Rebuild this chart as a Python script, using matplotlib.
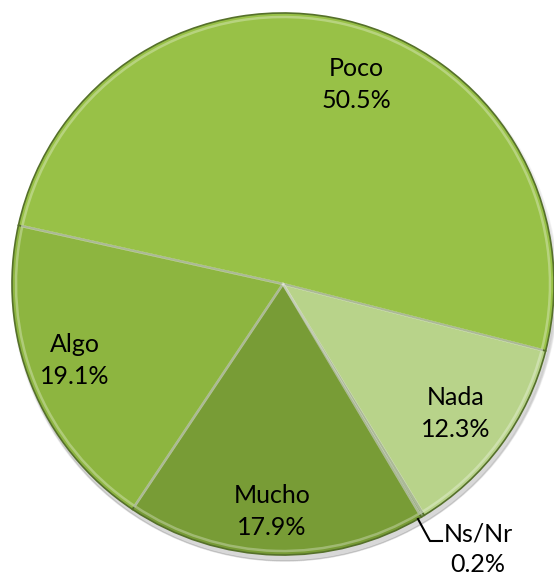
import matplotlib
matplotlib.use('Agg')
import matplotlib.pyplot as plt
import numpy as np

# --- DATOS ---
etiquetas = ['Poco', 'Algo', 'Mucho', 'Ns/Nr', 'Nada']
valores = [50.5, 19.1, 17.9, 0.2, 12.3]
colores = ['#98C147', '#8DB540', '#789C36', '#8FA478', '#B8D38A']

plt.rcParams['font.family'] = ['Lato', 'DejaVu Sans']

fig = plt.figure(figsize=(5.54, 5.77), dpi=100)
ax = fig.add_axes([0, 0, 1, 1])

H = 577
cx, cy, r = 283, H - 284, 271

# sombra suave
for k in range(4):
    sombra = plt.Circle((cx + 2, cy - 4 - k), r + 2 - k, color='black', alpha=0.04, zorder=0)
    ax.add_patch(sombra)

wedges, _ = ax.pie(valores, colors=colores, startangle=-14.3, counterclock=True,
                   center=(cx, cy), radius=r, frame=True,
                   wedgeprops=dict(edgecolor='#55702A', linewidth=1.2))

# brillo interior (bisel)
ax.pie(valores, colors=['none'] * len(valores), startangle=-14.3, counterclock=True,
       center=(cx, cy), radius=r - 4, frame=True,
       wedgeprops=dict(edgecolor='white', linewidth=1.8, alpha=0.3, fill=False))

ax.set_xlim(0, 554)
ax.set_ylim(0, H)
ax.set_aspect('equal')
ax.axis('off')

# posiciones de etiquetas (px): x, linea base nombre, linea base valor
pos = {'Poco': (356, 76, 108), 'Algo': (75, 352, 384), 'Mucho': (272, 503, 535),
       'Nada': (456, 405, 437), 'Ns/Nr': (478, 541, 572)}
for lab, val in zip(etiquetas, valores):
    x, y1, y2 = pos[lab]
    ax.text(x, H - y1, lab, ha='center', va='baseline', fontsize=18, color='black', zorder=5)
    ax.text(x, H - y2, f"{val}%", ha='center', va='baseline', fontsize=18, color='black', zorder=5)

# linea guia de Ns/Nr
ax.plot([418, 430, 442], [H - 519, H - 541, H - 541], color='black', lw=1.5,
        solid_joinstyle='miter', zorder=5)

fig.savefig('out.png', dpi=100, facecolor='white')
